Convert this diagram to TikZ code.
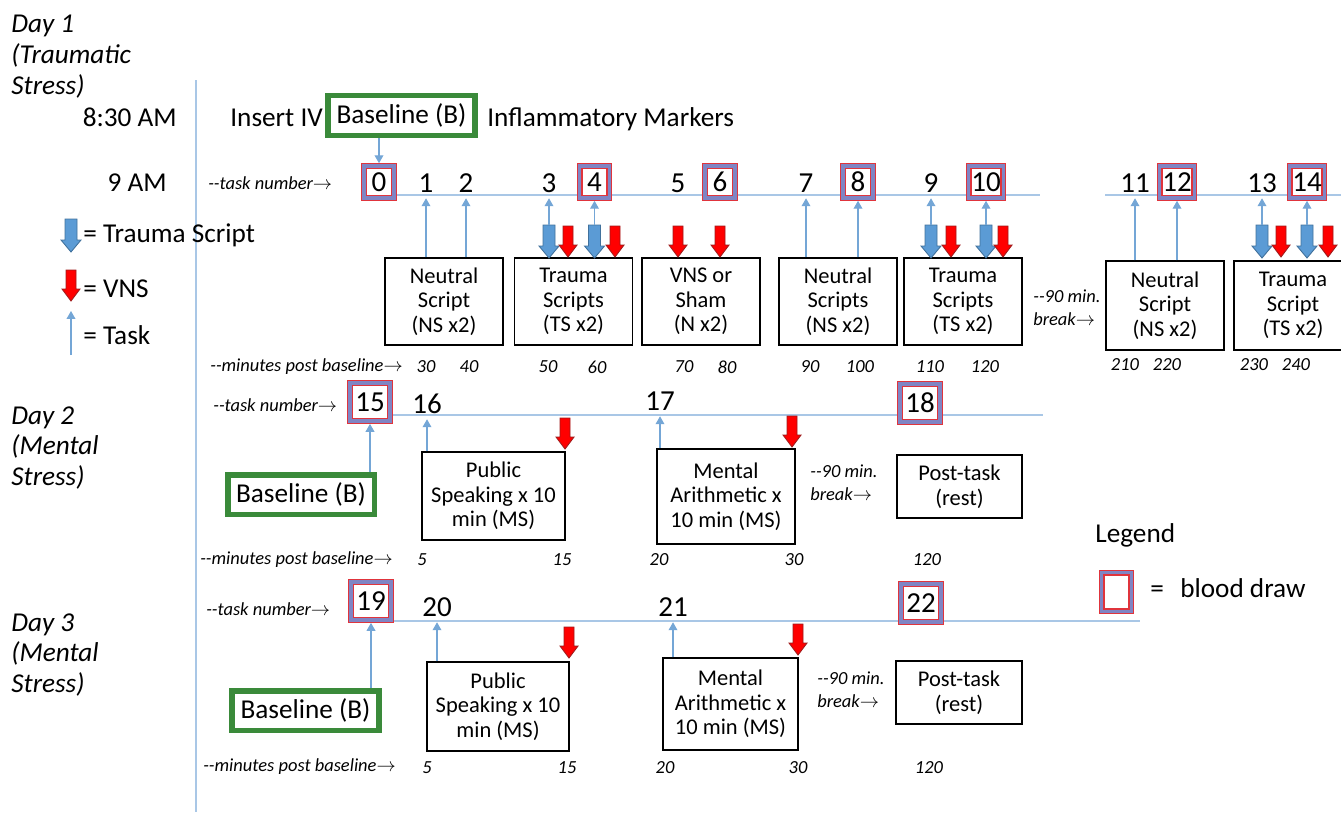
\documentclass[tikz,border=0pt]{standalone}
\usepackage{fontspec}
\setmainfont{Carlito}
\usepackage{tikz}
\usetikzlibrary{arrows.meta, positioning, calc}
\definecolor{lineblue}{HTML}{A9C7E6}
\definecolor{taskblue}{HTML}{74A6D6}
\definecolor{tsblue}{HTML}{5B9BD5}
\definecolor{tsedge}{HTML}{41719C}
\definecolor{vnsred}{HTML}{FF0000}
\definecolor{vnsedge}{HTML}{9E1B1B}
\definecolor{bgreen}{HTML}{3A8A3A}
\definecolor{bdred}{HTML}{E0343C}
\definecolor{bdband}{HTML}{7F85C4}
\pgfdeclarelayer{bg}
\pgfsetlayers{bg,main}
\newcommand{\txtsz}{\fontsize{15.5}{18}\selectfont}
\newcommand{\numsz}{\fontsize{16.5}{18}\selectfont}
\newcommand{\boxsz}{\fontsize{12.8}{14}\selectfont}
\newcommand{\notesz}{\fontsize{10.5}{13}\selectfont\itshape}
\newcommand{\daysz}{\fontsize{15.5}{17.6}\selectfont\itshape}

\begin{document}
\begin{tikzpicture}[
    x=0.02cm, y=-0.02cm,
    taskbox/.style={draw, line width=0.8pt, fill=white, align=center, font=\boxsz, inner sep=1pt, minimum width=2.36cm, minimum height=1.74cm},
    blood/.style={draw=bdred, line width=0.7pt, double=bdband, double distance=2pt, fill=white, font=\numsz, inner sep=1.5pt, outer sep=1.7pt, minimum width=17pt, minimum height=18pt},
    bloodbig/.style={blood, inner xsep=3pt, minimum width=23pt, minimum height=21.5pt},
    tnum/.style={font=\numsz, inner sep=1.5pt, minimum height=17pt},
    basebox/.style={draw=bgreen, line width=3.4pt, font=\txtsz, inner sep=1pt, minimum width=2.94cm, minimum height=0.8cm},
    txt/.style={font=\txtsz, inner sep=0pt},
    note/.style={font=\notesz, inner sep=0pt, align=left},
    daylab/.style={font=\daysz, inner sep=0pt, align=left, anchor=north west},
    tline/.style={draw=lineblue, line width=0.6pt},
    task/.style={-{Triangle[width=5pt, length=4.5pt]}, draw=taskblue, line width=0.6pt},
    tsarrow/.pic={
        \filldraw[fill=tsblue, draw=tsedge, line width=0.5pt] (-6,0) -- (6,0) -- (6,21) -- (10,21) -- (0,33) -- (-10,21) -- (-6,21) -- cycle;
        \coordinate (-top) at (0,0);
    },
    vnsarrow/.pic={
        \filldraw[fill=vnsred, draw=vnsedge, line width=0.5pt] (-5,0) -- (5,0) -- (5,19) -- (9,19) -- (0,31) -- (-9,19) -- (-5,19) -- cycle;
    }
]
    \useasboundingbox (0,0) rectangle (1341,812);
    \clip (0,0) rectangle (1341,812);

    % Day labels
    \node[daylab] (day1) at (11,15) {Day 1\\(Traumatic\\Stress)};
    \node[daylab] (day2) at (11,406) {Day 2\\(Mental\\Stress)};
    \node[daylab] (day3) at (11,613) {Day 3\\(Mental\\Stress)};
    \node[txt, anchor=base east] (t830) at (177,126) {8:30 AM};
    \node[txt, anchor=base east] (t900) at (167,191) {9 AM};

    % Legend (left)
    \pic (lgts) at (71,219) {tsarrow};
    \node[txt, anchor=west] (lgtstxt) at (83,235) {= Trauma Script};
    \pic (lgvns) at (71,270) {vnsarrow};
    \node[txt, anchor=west] (lgvnstxt) at (83,289) {= VNS};
    \coordinate (lgtaskbot) at (71,355);
    \coordinate (lgtasktop) at (71,311);
    \draw[task] (lgtaskbot) -- (lgtasktop);
    \node[txt, anchor=west] (lgtasktxt) at (83,335) {= Task};

    % Day 1
    \node[txt, anchor=base west] (iv) at (230,126) {Insert IV};
    \node[basebox] (bl1) at (401.5,115.5) {Baseline (B)};
    \node[txt, anchor=base west] (infl) at (487,126) {Inflammatory Markers};
    \node[note, anchor=west] (tn1) at (208,183) {-{}-task number$\rightarrow$};

    \node[blood] (t0) at (379,182) {0};
    \node[tnum] (t1) at (426,183) {1};
    \node[tnum] (t2) at (466,183) {2};
    \node[tnum] (t3) at (549,183) {3};
    \node[blood] (t4) at (594.5,182) {4};
    \node[tnum] (t5) at (678,183) {5};
    \node[blood] (t6) at (720,182) {6};
    \node[tnum] (t7) at (806,183) {7};
    \node[blood] (t8) at (858,182) {8};
    \node[tnum] (t9) at (931,183) {9};
    \node[blood] (t10) at (986,182) {10};
    \node[tnum] (t11) at (1135,183) {11};
    \node[blood] (t12) at (1177,182) {12};
    \node[tnum] (t13) at (1262,183) {13};
    \node[blood] (t14) at (1307,182) {14};

    \node[taskbox] (ns1) at (444,301.5) {Neutral\\Script\\(NS x2)};
    \node[taskbox] (ts1) at (573.5,301.5) {Trauma\\Scripts\\(TS x2)};
    \node[taskbox] (vns) at (701,301.5) {VNS or\\Sham\\(N x2)};
    \node[taskbox] (ns2) at (838,301.5) {Neutral\\Scripts\\(NS x2)};
    \node[taskbox] (ts2) at (963,301.5) {Trauma\\Scripts\\(TS x2)};
    \node[note, anchor=west] (brk1) at (1033,308) {-{}-90 min.\\break$\rightarrow$};
    \node[taskbox, minimum height=1.78cm] (ns3) at (1165,305.5) {Neutral\\Script\\(NS x2)};
    \node[taskbox, minimum height=1.78cm] (ts3) at (1293,305.5) {Trauma\\Script\\(TS x2)};

    % Trauma script and VNS arrows
    \pic (a3) at (549,225) {tsarrow};
    \pic at (568,226) {vnsarrow};
    \pic (a4) at (594.5,225) {tsarrow};
    \pic at (615,226) {vnsarrow};
    \pic at (678,226) {vnsarrow};
    \pic at (720,226) {vnsarrow};
    \pic (a9) at (931,225) {tsarrow};
    \pic at (951,226) {vnsarrow};
    \pic (a10) at (986,225) {tsarrow};
    \pic at (1003,226) {vnsarrow};
    \pic (a13) at (1262,225) {tsarrow};
    \pic at (1281,226) {vnsarrow};
    \pic (a14) at (1307,225) {tsarrow};
    \pic at (1328,226) {vnsarrow};

    % Task arrows
    \draw[task] (bl1.south -| t0) -- (t0.north);
    \draw[task] (ns1.north -| t1) -- (t1.south);
    \draw[task] (ns1.north -| t2) -- (t2.south);
    \draw[task] (a3-top) -- (t3.south);
    \draw[task] (a4-top) -- (t4.south);
    \draw[task] (ns2.north -| t7) -- (t7.south);
    \draw[task] (ns2.north -| t8) -- (t8.south);
    \draw[task] (a9-top) -- (t9.south);
    \draw[task] (a10-top) -- (t10.south);
    \draw[task] (ns3.north -| t11) -- (t11.south);
    \draw[task] (ns3.north -| t12) -- (t12.south);
    \draw[task] (a13-top) -- (t13.south);
    \draw[task] (a14-top) -- (t14.south);

    \node[note, anchor=west] (mn1) at (210,367) {-{}-minutes post baseline$\rightarrow$};
    \node[note] (m30) at (426,367) {30};
    \node[note] (m40) at (469,367) {40};
    \node[note] (m50) at (548,367) {50};
    \node[note] (m60) at (597,367) {60};
    \node[note] (m70) at (684,367) {70};
    \node[note] (m80) at (727,367) {80};
    \node[note] (m90) at (810,367) {90};
    \node[note] (m100) at (860,367) {100};
    \node[note] (m110) at (930,367) {110};
    \node[note] (m120) at (985,367) {120};
    \node[note] (m210) at (1125,365) {210};
    \node[note] (m220) at (1167,365) {220};
    \node[note] (m230) at (1254,365) {230};
    \node[note] (m240) at (1296,365) {240};

    % Day 2
    \node[note, anchor=west] (tn2) at (213,405) {-{}-task number$\rightarrow$};
    \node[bloodbig] (t15) at (370,402) {15};
    \node[tnum] (t16) at (427,404) {16};
    \node[tnum] (t17) at (660,401) {17};
    \node[bloodbig] (t18) at (920,403) {18};
    \node[basebox] (bl2) at (301,494.5) {Baseline (B)};
    \node[taskbox, minimum width=2.86cm, minimum height=1.76cm] (ps2) at (493.5,496) {Public\\Speaking x 10\\min (MS)};
    \node[taskbox, minimum width=2.76cm, minimum height=1.9cm] (ma2) at (726,496.5) {Mental\\Arithmetic x\\10 min (MS)};
    \node[note, anchor=west] (brk2) at (810,483) {-{}-90 min.\\break$\rightarrow$};
    \node[taskbox, minimum width=2.5cm, minimum height=1.26cm] (pt2) at (959.5,486.5) {Post-task\\(rest)};
    \pic at (565,418) {vnsarrow};
    \pic at (792,416) {vnsarrow};
    \draw[task] (bl2.north -| t15) -- (t15.south);
    \draw[task] (ps2.north -| t16) -- (t16.south);
    \draw[task] (ma2.north -| t17) -- (t17.south);

    \node[note, anchor=west] (mn2) at (200,560) {-{}-minutes post baseline$\rightarrow$};
    \node[note] (d2m5) at (422,560) {5};
    \node[note] (d2m15) at (562,560) {15};
    \node[note] (d2m20) at (659,560) {20};
    \node[note] (d2m30) at (794,560) {30};
    \node[note] (d2m120) at (927,560) {120};

    % Day 3
    \node[note, anchor=west] (tn3) at (206,609) {-{}-task number$\rightarrow$};
    \node[bloodbig] (t19) at (371,601) {19};
    \node[tnum] (t20) at (437,607) {20};
    \node[tnum] (t21) at (673,607) {21};
    \node[bloodbig] (t22) at (921,603) {22};
    \node[basebox] (bl3) at (305.5,710.5) {Baseline (B)};
    \node[taskbox, minimum width=2.84cm, minimum height=1.78cm] (ps3) at (498,706.5) {Public\\Speaking x 10\\min (MS)};
    \node[taskbox, minimum width=2.7cm, minimum height=1.84cm] (ma3) at (730.5,704) {Mental\\Arithmetic x\\10 min (MS)};
    \node[note, anchor=west] (brk3) at (817,690) {-{}-90 min.\\break$\rightarrow$};
    \node[taskbox, minimum width=2.52cm, minimum height=1.26cm] (pt3) at (959,692.5) {Post-task\\(rest)};
    \pic at (569,627) {vnsarrow};
    \pic at (798,624) {vnsarrow};
    \draw[task] (bl3.north -| t19) -- (t19.south);
    \draw[task] (ps3.north -| t20) -- (t20.south);
    \draw[task] (ma3.north -| t21) -- (t21.south);

    \node[note, anchor=west] (mn3) at (203,767) {-{}-minutes post baseline$\rightarrow$};
    \node[note] (d3m5) at (427,768) {5};
    \node[note] (d3m15) at (567,768) {15};
    \node[note] (d3m20) at (665,768) {20};
    \node[note] (d3m30) at (798,768) {30};
    \node[note] (d3m120) at (929,768) {120};

    % Legend (right)
    \node[txt, anchor=west] (lgd) at (1095,535) {Legend};
    \node[blood, minimum width=17pt, minimum height=22pt] (lgbd) at (1116.5,592) {};
    \node[txt, anchor=west] (lgbdtxt) at (1150,588) {=\hspace{0.6em}blood draw};

    % Time lines
    \begin{pgfonlayer}{bg}
        \coordinate (vtop) at (196,80);
        \coordinate (vbot) at (196,812);
        \draw[tline] (vtop) -- (vbot);
        \coordinate (d1end) at (1040,195);
        \draw[tline] (t0 |- d1end) -- (d1end);
        \coordinate (d1b) at (1105,195);
        \coordinate (d1c) at (1341,195);
        \draw[tline] (d1b) -- (d1c);
        \coordinate (d2end) at (1043,415);
        \draw[tline] (t15 |- d2end) -- (d2end);
        \coordinate (d3end) at (1140,621);
        \draw[tline] (t19 |- d3end) -- (d3end);
    \end{pgfonlayer}
\end{tikzpicture}
\end{document}
